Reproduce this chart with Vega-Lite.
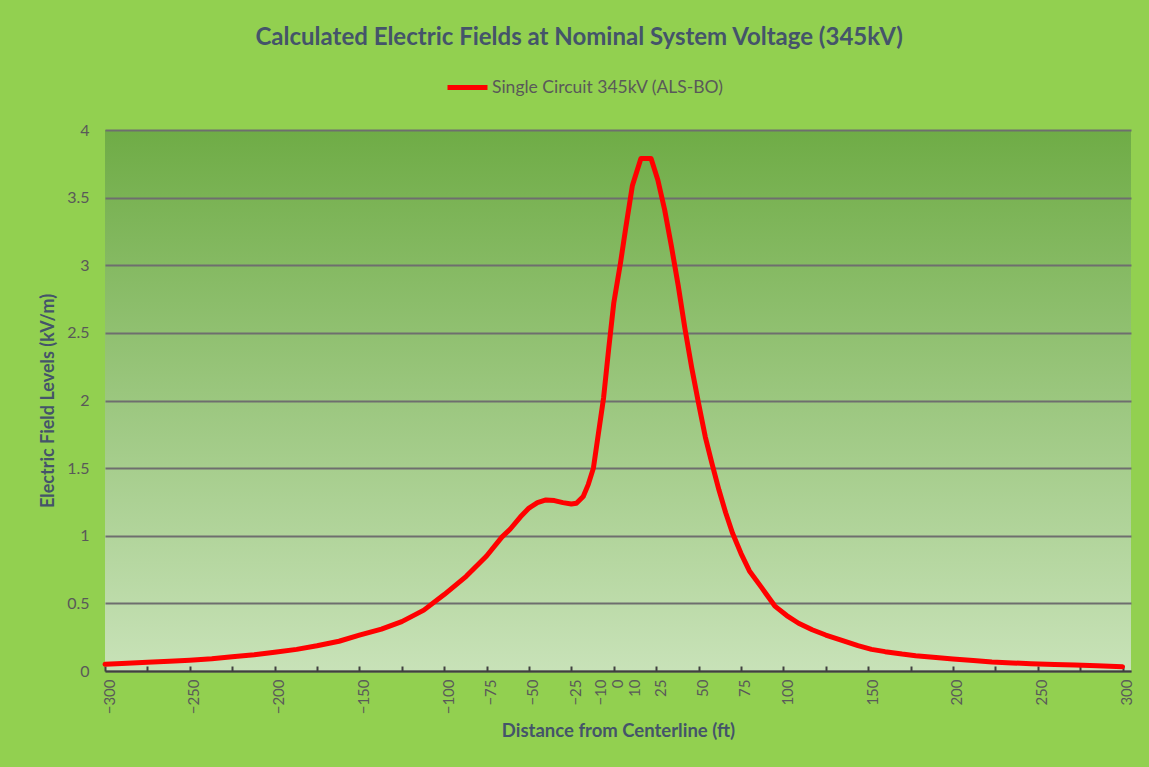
{
  "$schema": "https://vega.github.io/schema/vega-lite/v6.json",
  "autosize": "none",
  "width": 1026,
  "height": 541,
  "padding": {"left": 105, "top": 130, "right": 18, "bottom": 96},
  "background": "#92D050",
  "title": {
    "text": "Calculated Electric Fields at Nominal System Voltage (345kV)",
    "anchor": "middle",
    "frame": "bounds",
    "baseline": "alphabetic",
    "offset": -4,
    "dx": -8,
    "font": "Lato",
    "fontSize": 24,
    "fontWeight": "bold",
    "color": "#44546A"
  },
  "config": {
    "view": {
      "stroke": null,
      "fill": {
        "gradient": "linear",
        "x1": 0, "y1": 0, "x2": 0, "y2": 1,
        "stops": [
          {"offset": 0, "color": "#6FAC46"},
          {"offset": 1, "color": "#C8E2B8"}
        ]
      }
    },
    "font": "Lato"
  },
  "data": {
    "values": [
      {"distance": -300, "field": 0.05, "series": "Single Circuit 345kV (ALS-BO)"},
      {"distance": -290, "field": 0.055, "series": "Single Circuit 345kV (ALS-BO)"},
      {"distance": -275, "field": 0.065, "series": "Single Circuit 345kV (ALS-BO)"},
      {"distance": -262, "field": 0.072, "series": "Single Circuit 345kV (ALS-BO)"},
      {"distance": -250, "field": 0.079, "series": "Single Circuit 345kV (ALS-BO)"},
      {"distance": -237, "field": 0.09, "series": "Single Circuit 345kV (ALS-BO)"},
      {"distance": -225, "field": 0.105, "series": "Single Circuit 345kV (ALS-BO)"},
      {"distance": -212, "field": 0.12, "series": "Single Circuit 345kV (ALS-BO)"},
      {"distance": -200, "field": 0.138, "series": "Single Circuit 345kV (ALS-BO)"},
      {"distance": -187, "field": 0.16, "series": "Single Circuit 345kV (ALS-BO)"},
      {"distance": -175, "field": 0.187, "series": "Single Circuit 345kV (ALS-BO)"},
      {"distance": -162, "field": 0.22, "series": "Single Circuit 345kV (ALS-BO)"},
      {"distance": -150, "field": 0.265, "series": "Single Circuit 345kV (ALS-BO)"},
      {"distance": -137, "field": 0.31, "series": "Single Circuit 345kV (ALS-BO)"},
      {"distance": -125, "field": 0.365, "series": "Single Circuit 345kV (ALS-BO)"},
      {"distance": -112, "field": 0.45, "series": "Single Circuit 345kV (ALS-BO)"},
      {"distance": -100, "field": 0.565, "series": "Single Circuit 345kV (ALS-BO)"},
      {"distance": -87, "field": 0.7, "series": "Single Circuit 345kV (ALS-BO)"},
      {"distance": -75, "field": 0.85, "series": "Single Circuit 345kV (ALS-BO)"},
      {"distance": -66, "field": 0.99, "series": "Single Circuit 345kV (ALS-BO)"},
      {"distance": -61, "field": 1.05, "series": "Single Circuit 345kV (ALS-BO)"},
      {"distance": -55, "field": 1.14, "series": "Single Circuit 345kV (ALS-BO)"},
      {"distance": -50, "field": 1.205, "series": "Single Circuit 345kV (ALS-BO)"},
      {"distance": -45, "field": 1.245, "series": "Single Circuit 345kV (ALS-BO)"},
      {"distance": -40, "field": 1.265, "series": "Single Circuit 345kV (ALS-BO)"},
      {"distance": -35, "field": 1.26, "series": "Single Circuit 345kV (ALS-BO)"},
      {"distance": -30, "field": 1.245, "series": "Single Circuit 345kV (ALS-BO)"},
      {"distance": -25, "field": 1.235, "series": "Single Circuit 345kV (ALS-BO)"},
      {"distance": -22, "field": 1.24, "series": "Single Circuit 345kV (ALS-BO)"},
      {"distance": -18, "field": 1.29, "series": "Single Circuit 345kV (ALS-BO)"},
      {"distance": -15, "field": 1.38, "series": "Single Circuit 345kV (ALS-BO)"},
      {"distance": -12, "field": 1.5, "series": "Single Circuit 345kV (ALS-BO)"},
      {"distance": -9, "field": 1.76, "series": "Single Circuit 345kV (ALS-BO)"},
      {"distance": -6, "field": 2.02, "series": "Single Circuit 345kV (ALS-BO)"},
      {"distance": -3, "field": 2.38, "series": "Single Circuit 345kV (ALS-BO)"},
      {"distance": 0, "field": 2.72, "series": "Single Circuit 345kV (ALS-BO)"},
      {"distance": 4, "field": 3.02, "series": "Single Circuit 345kV (ALS-BO)"},
      {"distance": 7, "field": 3.27, "series": "Single Circuit 345kV (ALS-BO)"},
      {"distance": 11, "field": 3.59, "series": "Single Circuit 345kV (ALS-BO)"},
      {"distance": 16, "field": 3.79, "series": "Single Circuit 345kV (ALS-BO)"},
      {"distance": 22, "field": 3.79, "series": "Single Circuit 345kV (ALS-BO)"},
      {"distance": 26, "field": 3.63, "series": "Single Circuit 345kV (ALS-BO)"},
      {"distance": 30, "field": 3.41, "series": "Single Circuit 345kV (ALS-BO)"},
      {"distance": 34, "field": 3.14, "series": "Single Circuit 345kV (ALS-BO)"},
      {"distance": 38, "field": 2.85, "series": "Single Circuit 345kV (ALS-BO)"},
      {"distance": 42, "field": 2.53, "series": "Single Circuit 345kV (ALS-BO)"},
      {"distance": 46, "field": 2.24, "series": "Single Circuit 345kV (ALS-BO)"},
      {"distance": 50, "field": 1.98, "series": "Single Circuit 345kV (ALS-BO)"},
      {"distance": 54, "field": 1.73, "series": "Single Circuit 345kV (ALS-BO)"},
      {"distance": 58, "field": 1.53, "series": "Single Circuit 345kV (ALS-BO)"},
      {"distance": 62, "field": 1.34, "series": "Single Circuit 345kV (ALS-BO)"},
      {"distance": 66, "field": 1.17, "series": "Single Circuit 345kV (ALS-BO)"},
      {"distance": 70, "field": 1.02, "series": "Single Circuit 345kV (ALS-BO)"},
      {"distance": 75, "field": 0.87, "series": "Single Circuit 345kV (ALS-BO)"},
      {"distance": 80, "field": 0.74, "series": "Single Circuit 345kV (ALS-BO)"},
      {"distance": 87, "field": 0.62, "series": "Single Circuit 345kV (ALS-BO)"},
      {"distance": 95, "field": 0.48, "series": "Single Circuit 345kV (ALS-BO)"},
      {"distance": 102, "field": 0.41, "series": "Single Circuit 345kV (ALS-BO)"},
      {"distance": 109, "field": 0.353, "series": "Single Circuit 345kV (ALS-BO)"},
      {"distance": 117, "field": 0.305, "series": "Single Circuit 345kV (ALS-BO)"},
      {"distance": 125, "field": 0.266, "series": "Single Circuit 345kV (ALS-BO)"},
      {"distance": 135, "field": 0.225, "series": "Single Circuit 345kV (ALS-BO)"},
      {"distance": 144, "field": 0.187, "series": "Single Circuit 345kV (ALS-BO)"},
      {"distance": 152, "field": 0.16, "series": "Single Circuit 345kV (ALS-BO)"},
      {"distance": 160, "field": 0.143, "series": "Single Circuit 345kV (ALS-BO)"},
      {"distance": 170, "field": 0.125, "series": "Single Circuit 345kV (ALS-BO)"},
      {"distance": 178, "field": 0.113, "series": "Single Circuit 345kV (ALS-BO)"},
      {"distance": 190, "field": 0.1, "series": "Single Circuit 345kV (ALS-BO)"},
      {"distance": 200, "field": 0.089, "series": "Single Circuit 345kV (ALS-BO)"},
      {"distance": 212, "field": 0.077, "series": "Single Circuit 345kV (ALS-BO)"},
      {"distance": 223, "field": 0.067, "series": "Single Circuit 345kV (ALS-BO)"},
      {"distance": 235, "field": 0.06, "series": "Single Circuit 345kV (ALS-BO)"},
      {"distance": 246, "field": 0.054, "series": "Single Circuit 345kV (ALS-BO)"},
      {"distance": 260, "field": 0.048, "series": "Single Circuit 345kV (ALS-BO)"},
      {"distance": 272, "field": 0.044, "series": "Single Circuit 345kV (ALS-BO)"},
      {"distance": 285, "field": 0.038, "series": "Single Circuit 345kV (ALS-BO)"},
      {"distance": 300, "field": 0.032, "series": "Single Circuit 345kV (ALS-BO)"}
    ]
  },
  "layer": [
    {
      "mark": {"type": "line", "strokeWidth": 5, "strokeJoin": "round", "strokeCap": "round"},
      "encoding": {
        "x": {
          "field": "distance",
          "type": "quantitative",
          "scale": {"domain": [-300, 305], "nice": false, "zero": false},
          "axis": {
            "values": [-300, -250, -200, -150, -100, -75, -50, -25, -10, 0, 10, 25, 50, 75, 100, 150, 200, 250, 300],
            "labelAngle": -90,
            "labelFontSize": 15,
            "labelColor": "#595959",
            "labelPadding": 8,
            "labelOffset": 4,
            "labelOverlap": false,
            "labelFlush": false,
            "labelBound": false,
            "ticks": false,
            "domain": false,
            "grid": false,
            "title": "Distance from Centerline (ft)",
            "titleFontSize": 18.5,
            "titleFontWeight": "bold",
            "titleColor": "#44546A",
            "titlePadding": 8
          }
        },
        "y": {
          "field": "field",
          "type": "quantitative",
          "scale": {"domain": [0, 4], "nice": false},
          "axis": {
            "values": [0, 0.5, 1, 1.5, 2, 2.5, 3, 3.5, 4],
            "format": "~g",
            "grid": true,
            "gridColor": "#6E6E6E",
            "gridWidth": 2,
            "domain": false,
            "ticks": false,
            "labelFontSize": 16,
            "labelColor": "#595959",
            "labelPadding": 16,
            "title": "Electric Field Levels (kV/m)",
            "titleFontSize": 18,
            "titleFontWeight": "bold",
            "titleColor": "#44546A",
            "titlePadding": 9
          }
        },
        "color": {
          "field": "series",
          "type": "nominal",
          "scale": {"range": ["#FF0000"]},
          "legend": {
            "orient": "none",
            "legendX": 340,
            "legendY": -65,
            "title": null,
            "padding": 0,
            "symbolType": "stroke",
            "symbolSize": 1600,
            "symbolStrokeWidth": 5,
            "labelFontSize": 17.5,
            "labelColor": "#595959",
            "labelOffset": 2,
            "labelLimit": 400
          }
        }
      }
    },
    {
      "mark": {"type": "line", "opacity": 0},
      "encoding": {
        "x": {
          "field": "distance",
          "type": "quantitative",
          "axis": {
            "orient": "bottom",
            "values": [-300, -275, -250, -225, -200, -175, -150, -125, -100, -75, -50, -25, 0, 25, 50, 75, 100, 125, 150, 175, 200, 225, 250, 275, 300],
            "labels": false,
            "ticks": true,
            "tickSize": -5,
            "tickWidth": 2,
            "tickColor": "#404040",
            "domain": true,
            "domainColor": "#404040",
            "domainWidth": 2,
            "grid": false,
            "title": null
          }
        },
        "y": {"field": "field", "type": "quantitative"}
      }
    }
  ],
  "resolve": {"axis": {"x": "independent"}}
}
